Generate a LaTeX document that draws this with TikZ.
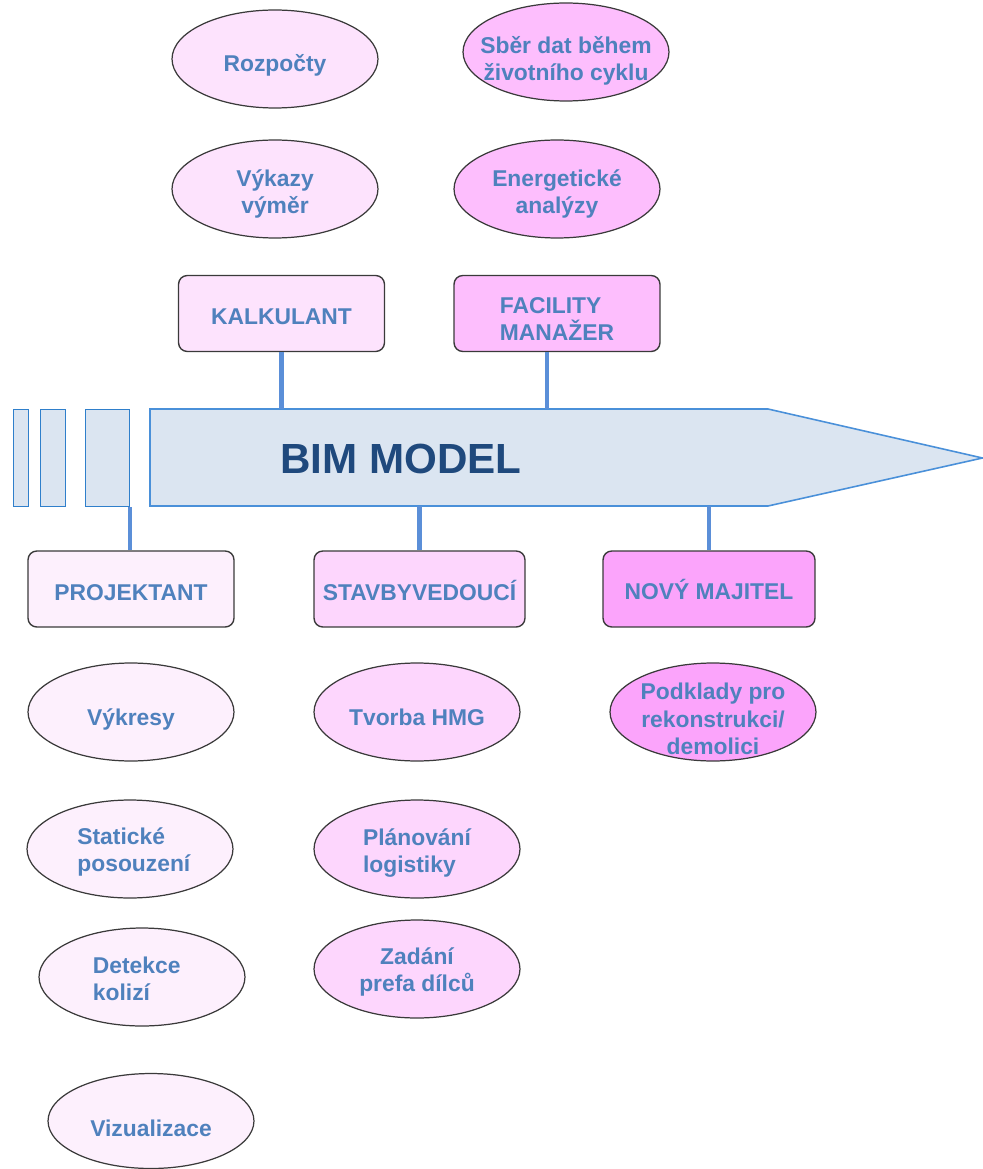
\documentclass[tikz,border=0pt]{standalone}
\usepackage{fontspec}
\setmainfont{Liberation Sans}
\usetikzlibrary{shapes.geometric,calc}
\definecolor{txtblue}{HTML}{4F81BD}
\definecolor{bimblue}{HTML}{1F497D}
\definecolor{arrowfill}{HTML}{DBE5F1}
\definecolor{arrowline}{HTML}{4A90D9}
\definecolor{rectline}{HTML}{2F7FCB}
\definecolor{linkblue}{HTML}{5B8FD8}
\definecolor{edgegray}{HTML}{3A3A3A}
\definecolor{pinkA}{HTML}{FDF0FD}
\definecolor{pinkB}{HTML}{FDE3FD}
\definecolor{pinkC}{HTML}{FDD6FD}
\definecolor{pinkD}{HTML}{FDBEFD}
\definecolor{pinkE}{HTML}{FBA4FB}
\tikzset{
  lbl/.style={text=txtblue, font=\bfseries\fontsize{13}{15.5}\selectfont, align=center, inner sep=0pt},
  rolebox/.style={draw=edgegray, line width=0.8pt, rounded corners=5pt, minimum width=4.12cm, minimum height=1.52cm, inner sep=0pt},
  task/.style={ellipse, draw=edgegray, line width=0.7pt, minimum width=4.12cm, minimum height=1.96cm, inner sep=0pt},
  link/.style={draw=linkblue, line width=2.4pt},
  tick/.style={draw=rectline, fill=arrowfill, line width=0.8pt, minimum height=1.94cm, inner sep=0pt, anchor=north west},
}
\begin{document}
\begin{tikzpicture}[x=0.02cm,y=-0.02cm]
\useasboundingbox (0,0) rectangle (983,1169);
% main arrow
\path[draw=arrowline, fill=arrowfill, line width=0.9pt] (150,409) -- (768,409) -- (982.5,458) -- (768,506) -- (150,506) -- cycle;
\coordinate (atop) at (150,409);
\coordinate (abot) at (150,506);
\node[tick, minimum width=0.30cm] (r1) at (13,409) {};
\node[tick, minimum width=0.50cm] (r2) at (40,409) {};
\node[tick, minimum width=0.88cm] (r3) at (85,409) {};
\node[text=bimblue, font=\bfseries\fontsize{24}{28}\selectfont, inner sep=0pt] (bim) at (401,459) {BIM MODEL};
% role boxes
\node[rolebox, fill=pinkB, label={[lbl, yshift=-1.7pt]center:KALKULANT}] (kalk) at (281.5,313.5) {};
\node[rolebox, fill=pinkD, label={[lbl, align=left, yshift=-3.3pt]center:{FACILITY\\MANAŽER}}] (fac) at (557,313.5) {};
\node[rolebox, fill=pinkA, label={[lbl, yshift=-2pt]center:PROJEKTANT}] (proj) at (131,589) {};
\node[rolebox, fill=pinkC, minimum width=4.22cm, label={[lbl, yshift=-1pt]center:STAVBYVEDOUCÍ}] (stav) at (419.5,589) {};
\node[rolebox, fill=pinkE, minimum width=4.24cm, label={[lbl]center:NOVÝ MAJITEL}] (novy) at (709,589) {};
% connectors
\draw[link] (kalk.south) -- (kalk.south |- atop);
\draw[link] ($(fac.south)+(-10,0)$) -- ($(fac.south |- atop)+(-10,0)$);
\draw[link] ($(proj.north)+(-1,0)$) -- ($(proj.north |- r3.south)+(-1,0)$);
\draw[link] (stav.north) -- (stav.north |- abot);
\draw[link] (novy.north) -- (novy.north |- abot);
% tasks
\node[task, fill=pinkB, label={[lbl, yshift=-3.4pt]center:Rozpočty}] (rozp) at (275,59) {};
\node[task, fill=pinkB, label={[lbl, yshift=-2.8pt]center:{Výkazy\\výměr}}] (vykaz) at (275,189) {};
\node[task, fill=pinkD, label={[lbl, yshift=-5pt]center:{Sběr dat během\\životního cyklu}}] (sber) at (566,52) {};
\node[task, fill=pinkD, label={[lbl, yshift=-2.8pt]center:{Energetické\\analýzy}}] (ener) at (557,189) {};
\node[task, fill=pinkA, label={[lbl, yshift=-4pt]center:Výkresy}] (vykr) at (131,712) {};
\node[task, fill=pinkA, label={[lbl, align=left, yshift=-1.7pt, xshift=2.2pt]center:{Statické\\posouzení}}] (stat) at (130,849) {};
\node[task, fill=pinkA, label={[lbl, align=left, xshift=-3pt, yshift=-1.1pt]center:{Detekce\\kolizí}}] (det) at (142,977) {};
\node[task, fill=pinkA, minimum height=1.9cm, label={[lbl, yshift=-4pt]center:Vizualizace}] (viz) at (151,1121) {};
\node[task, fill=pinkC, label={[lbl, yshift=-2.8pt]center:Tvorba HMG}] (tvor) at (417,712) {};
\node[task, fill=pinkC, label={[lbl, align=left, yshift=-2.3pt]center:{Plánování\\logistiky}}] (plan) at (417,849) {};
\node[task, fill=pinkC, label={[lbl, yshift=-1.7pt]center:{Zadání\\prefa dílců}}] (zad) at (417,969) {};
\node[task, fill=pinkE, label={[lbl, yshift=-4pt]center:{Podklady pro\\rekonstrukci/\\demolici}}] (podk) at (713,712) {};
\end{tikzpicture}
\end{document}
